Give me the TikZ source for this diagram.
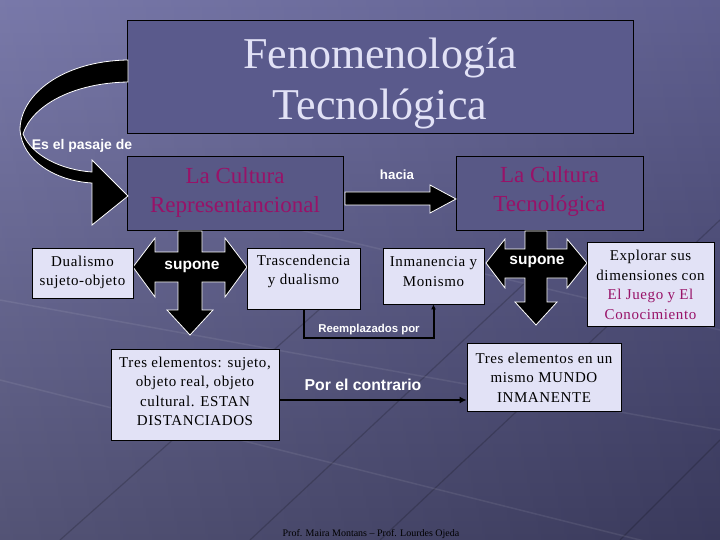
\documentclass[tikz,border=0pt]{standalone}
\usepackage{fontspec}
\setmainfont{Liberation Serif}
\setsansfont{Liberation Sans}
\newfontfamily\boxfont{Liberation Serif}[LetterSpace=4]
\usetikzlibrary{arrows.meta}
\definecolor{bgtop}{RGB}{106,106,160}
\definecolor{bgbot}{RGB}{64,64,102}
\definecolor{titlefill}{RGB}{90,90,140}
\definecolor{culfill}{RGB}{88,88,134}
\definecolor{lightbox}{RGB}{226,226,246}
\definecolor{magtext}{RGB}{152,18,104}
\definecolor{titletext}{RGB}{226,226,246}
\tikzset{
  darkbox/.style={draw=black, line width=0.8pt, inner sep=0pt},
  lightframe/.style={draw=black, line width=0.8pt, fill=lightbox, inner sep=0pt},
  boxtext/.style={inner sep=0pt, align=center, font=\boxfont\fontsize{15}{19.5}\selectfont, text=black},
  cultext/.style={inner sep=0pt, align=center, font=\fontsize{23}{29}\selectfont, text=magtext},
  wlabel/.style={inner sep=0pt, text=white, font=\sffamily\bfseries},
  bigarrow/.style={fill=black, draw=white, line width=0.8pt, line join=miter},
  conn/.style={draw=black, line width=2pt},
}
\begin{document}
\begin{tikzpicture}[x=1pt,y=-1pt]
\useasboundingbox (0,0) rectangle (720,540);
% background
\shade[top color=bgtop, bottom color=bgbot] (0,0) rectangle (720,540);
\shade[left color=white, right color=black, opacity=0.10] (0,0) rectangle (720,540);
\begin{scope}[draw=black, opacity=0.18, line width=1.2pt]
  \draw (60,540) -- (330,300);
  \draw (250,540) -- (560,250);
  \draw (380,540) -- (720,220);
  \draw (620,540) -- (720,440);
\end{scope}
\begin{scope}[draw=white, opacity=0.08, line width=1.5pt]
  \draw (0,380) -- (720,560);
  \draw (0,300) -- (720,430);
  \draw (300,230) -- (720,330);
\end{scope}

% title box
\node[darkbox, fill=titlefill, minimum width=506pt, minimum height=113pt] (title) at (380,76.5) {};
\node[inner sep=0pt, align=center, text=titletext, font=\fontsize{44}{51}\selectfont] (titlet) at (380,83) {Fenomenología\\Tecnológica};

% culture boxes
\node[darkbox, fill=culfill, minimum width=216pt, minimum height=74pt] (rep) at (235,193) {};
\node[cultext] (rept) at (235,192) {La Cultura\\Representancional};
\node[darkbox, fill=culfill, minimum width=187pt, minimum height=74pt] (tec) at (549.5,193) {};
\node[cultext] (tect) at (549.5,192) {La Cultura\\Tecnológica};

% curved arrow
\path[bigarrow] (128,60) .. controls (62,61) and (20,95) .. (20,130)
  .. controls (22,160) and (55,181) .. (92,183) -- (92,225) -- (128,196) -- (92,160) -- (92,172)
  .. controls (62,170) and (32,156) .. (23,134)
  .. controls (32,106) and (72,83) .. (128,82) -- cycle;
\node[wlabel, font=\sffamily\bfseries\fontsize{14}{16}\selectfont] (pasaje) at (82,146) {Es el pasaje de};

% hacia arrow
\path[bigarrow] (345,192) -- (430,192) -- (430,185) -- (456,199) -- (430,213) -- (430,205) -- (345,205) -- cycle;
\node[wlabel, font=\sffamily\bfseries\fontsize{13.3}{15}\selectfont] (hacia) at (397,175) {hacia};

% cross arrow 1
\path[bigarrow] (178,231) -- (202,231) -- (202,252) -- (225,252) -- (225,238) -- (247,267) -- (225,297) -- (225,282)
  -- (202,282) -- (202,310) -- (213,310) -- (190,335) -- (167,310) -- (178,310) -- (178,282) -- (155,282)
  -- (155,297) -- (133,267) -- (155,238) -- (155,252) -- (178,252) -- cycle;
\node[wlabel, font=\sffamily\bfseries\fontsize{15.5}{17}\selectfont] (sup1) at (192,267) {supone};

% cross arrow 2
\path[bigarrow] (525,231) -- (547,231) -- (547,249) -- (567,249) -- (567,239) -- (587,263) -- (567,288) -- (567,278)
  -- (547,278) -- (547,302) -- (557,302) -- (536,325) -- (515,302) -- (525,302) -- (525,278) -- (505,278)
  -- (505,288) -- (486,263) -- (505,239) -- (505,249) -- (525,249) -- cycle;
\node[wlabel, font=\sffamily\bfseries\fontsize{15.5}{17}\selectfont] (sup2) at (537,262) {supone};

% light boxes
\node[lightframe, minimum width=101pt, minimum height=50pt] (dual) at (82.5,273) {};
\node[boxtext] (dualt) at (82.5,272.5) {Dualismo\\sujeto-objeto};

\node[lightframe, minimum width=113pt, minimum height=61pt] (tras) at (303.5,278.5) {};
\node[boxtext] (trast) at (303.5,271.5) {Trascendencia\\y dualismo};

\node[lightframe, minimum width=101pt, minimum height=56pt] (inm) at (433.5,276) {};
\node[boxtext] (inmt) at (433.5,271.5) {Inmanencia y\\Monismo};

\node[lightframe, minimum width=127pt, minimum height=84pt] (expl) at (650.5,284) {};
\node[boxtext] (explt) at (650.5,285) {Explorar sus\\dimensiones con\\\textcolor{magtext}{El Juego y El}\\\textcolor{magtext}{Conocimiento}};

\node[lightframe, minimum width=168pt, minimum height=91pt] (tres1) at (195,394.5) {};
\node[boxtext] (tres1t) at (195,391.5) {Tres elementos: sujeto,\\objeto real, objeto\\cultural. ESTAN\\DISTANCIADOS};

\node[lightframe, minimum width=154pt, minimum height=68pt] (tres2) at (544,377) {};
\node[boxtext] (tres2t) at (544,377.5) {Tres elementos en un\\mismo MUNDO\\INMANENTE};

% Reemplazados por connector
\draw[conn, -{Latex[length=5pt,width=5pt]}] (tras.south) -- ++(0,29) -| (inm.south);
\node[wlabel, font=\sffamily\bfseries\fontsize{11.4}{13}\selectfont] (reem) at (369,330) {Reemplazados por};

% Por el contrario connector
\draw[conn, line width=2.6pt, -{Latex[length=7pt,width=7pt]}] ([yshift=-5.5pt]tres1.east) coordinate (pc) -- (pc -| tres2.west);
\node[wlabel, font=\sffamily\bfseries\fontsize{15.8}{18}\selectfont] (contr) at (363,385) {Por el contrario};

% footer
\node[inner sep=0pt, text=black, font=\fontsize{10}{12}\selectfont] (foot) at (371,534) {Prof. Maira Montans – Prof. Lourdes Ojeda};
\end{tikzpicture}
\end{document}
